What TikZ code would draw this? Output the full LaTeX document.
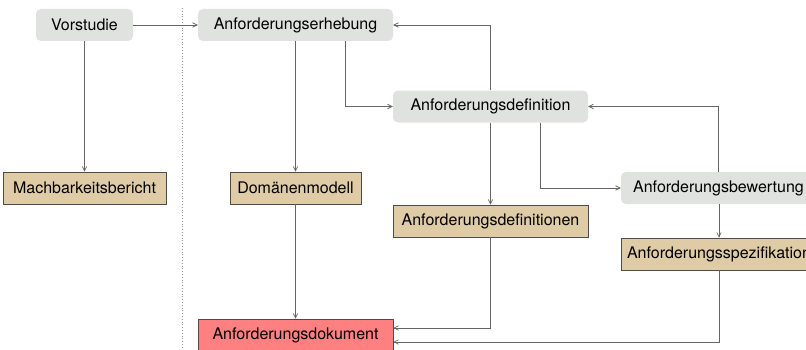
\documentclass[tikz,border=0pt]{standalone}
\usepackage{fontspec}
\setmainfont{TeX Gyre Heros}
\usetikzlibrary{arrows.meta,calc}
\definecolor{procfill}{HTML}{E0E2DF}
\definecolor{docfill}{HTML}{DFCBA6}
\definecolor{finalfill}{HTML}{FF8080}
\definecolor{linegray}{HTML}{666666}
\begin{document}
\begin{tikzpicture}[x=1pt,y=1pt,
  base/.style={minimum height=32pt,inner sep=0pt,font=\fontsize{16}{19}\selectfont},
  proc/.style={base,fill=procfill,rounded corners=5pt},
  doc/.style={base,fill=docfill,draw=black!70,line width=0.6pt},
  final/.style={base,fill=finalfill,draw=black!70,line width=0.6pt},
  flow/.style={draw=linegray,line width=0.7pt,-{Straight Barb[length=4.5pt,width=4.5pt]}}]
\useasboundingbox (0,0) rectangle (806,349);
% px y -> tikz y = 349 - y
\node[proc,minimum width=97pt]  (vor) at (84.5,324) {Vorstudie};
\node[proc,minimum width=195pt] (erh) at (295.5,324) {Anforderungserhebung};
\node[proc,minimum width=195pt] (def) at (490.5,242.5) {Anforderungsdefinition};
\node[proc,minimum width=195pt] (bew) at (718.5,161) {Anforderungsbewertung};
\node[doc,minimum width=163pt]  (mach) at (84.5,161) {Machbarkeitsbericht};
\node[doc,minimum width=131pt]  (dom) at (295.5,161) {Domänenmodell};
\node[doc,minimum width=195pt]  (defs) at (490.5,128) {Anforderungsdefinitionen};
\node[doc,minimum width=195pt]  (spez) at (719,95) {Anforderungsspezifikation};
\node[final,minimum width=195pt] (dok) at (295.5,14) {Anforderungsdokument};
\coordinate (dtop) at (182,341);
\coordinate (dbot) at (182,0);
\draw[linegray!70,dotted,line width=0.8pt] (dtop) -- (dbot);
\draw[flow] (vor) -- (erh);
\draw[flow] (vor) -- (mach);
\draw[flow] (erh) -- (dom);
\draw[flow] ([xshift=49.5pt]erh.south) |- (def.west);
\draw[flow] (def.north) |- (erh.east);
\draw[flow] (def) -- (defs);
\draw[flow] ([xshift=49.5pt]def.south) |- (bew.west);
\draw[flow] (bew.north) |- (def.east);
\draw[flow] (bew.south -| spez.north) -- (spez.north);
\draw[flow] (dom) -- (dok);
\draw[flow] (defs.south) |- ([yshift=7pt]dok.east);
\draw[flow] (spez.south) |- ([yshift=-7pt]dok.east);
\end{tikzpicture}
\end{document}
